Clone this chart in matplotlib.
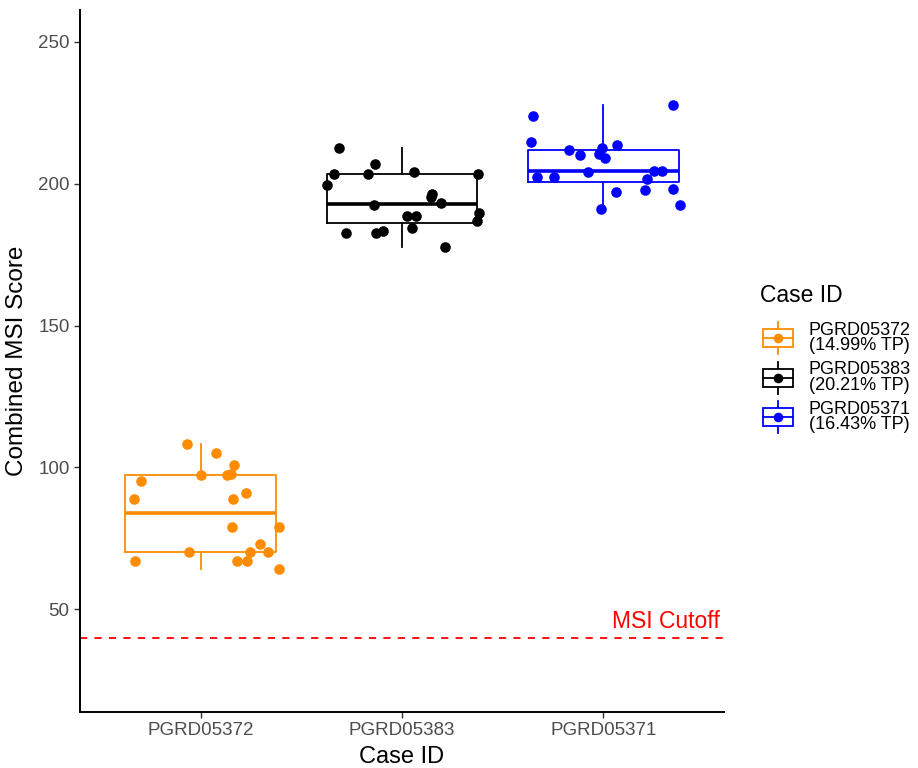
import matplotlib
matplotlib.use("Agg")
from matplotlib import pyplot as plt
from matplotlib.patches import Rectangle

plt.rcParams['font.family'] = ['Liberation Sans', 'DejaVu Sans']

cases = ['PGRD05372', 'PGRD05383', 'PGRD05371']
legend_labels = ['PGRD05372\n(14.99% TP)', 'PGRD05383\n(20.21% TP)', 'PGRD05371\n(16.43% TP)']
colors = ['#FF8C00', 'black', '#0000FF']

# scores per case
scores_05372 = [108.1, 105.0, 100.7, 97.2, 97.2, 97.8, 95.1, 89.0, 89.0, 91.1,
                79.0, 79.0, 73.1, 70.2, 70.0, 70.0, 67.0, 67.0, 67.0, 64.1]
scores_05383 = [212.6, 206.9, 203.4, 203.6, 204.3, 203.6, 199.5, 196.3, 195.2, 193.2,
                192.6, 189.6, 186.8, 188.5, 188.5, 184.4, 182.5, 182.5, 183.2, 177.8]
scores_05371 = [223.9, 227.8, 214.6, 211.9, 210.2, 212.5, 210.4, 209.0, 213.6, 202.5,
                202.5, 204.3, 204.6, 204.6, 201.6, 197.7, 198.3, 197.2, 191.1, 192.5]

# horizontal jitter of each point, as seen in the picture
jitter_05372 = [-0.068, 0.078, 0.164, 0.003, 0.131, 0.148, -0.295, -0.333, 0.161, 0.225,
                0.156, 0.388, 0.292, 0.247, 0.333, -0.056, -0.328, 0.178, 0.231, 0.388]
jitter_05383 = [-0.313, -0.134, -0.338, -0.168, 0.06, 0.378, -0.372, 0.151, 0.143, 0.193,
                -0.139, 0.383, 0.375, 0.023, 0.068, 0.051, -0.28, -0.128, -0.095, 0.212]
jitter_05371 = [-0.347, 0.348, -0.36, -0.169, -0.114, -0.006, -0.02, 0.01, 0.068, -0.327,
                -0.247, -0.078, 0.254, 0.292, 0.216, 0.207, 0.345, 0.063, -0.012, 0.382]

scores = [scores_05372, scores_05383, scores_05371]
jitters = [jitter_05372, jitter_05383, jitter_05371]
cutoff = 40

fig = plt.figure(figsize=(9.18, 7.68), dpi=100)
ax = fig.add_axes([80 / 918, 1 - 712 / 768, 644 / 918, 702 / 768])

for i in range(len(cases)):
    c = colors[i]
    ax.boxplot(scores[i], positions=[i + 1], widths=0.75, showfliers=False,
               boxprops=dict(color=c, linewidth=1.3),
               whiskerprops=dict(color=c, linewidth=1.3),
               capprops=dict(linewidth=0),
               medianprops=dict(color=c, linewidth=2.6),
               zorder=2)
    xs = [i + 1 + j for j in jitters[i]]
    ax.scatter(xs, scores[i], s=58, color=c, zorder=3, linewidths=0)

ax.axhline(cutoff, color='red', linestyle=(0, (4, 4)), linewidth=1.3, zorder=1)
ax.text(3.58, cutoff + 1.5, 'MSI Cutoff', color='red', fontsize=16.5,
        ha='right', va='bottom')

ax.set_xlim(0.4, 3.6)
ax.set_ylim(13.75, 261.25)
ax.set_xticks([1, 2, 3])
ax.set_xticklabels(cases)
ax.set_yticks([50, 100, 150, 200, 250])
ax.tick_params(colors='#333333', labelcolor='#4D4D4D', labelsize=13.5,
               length=4, width=1)
for s in ['top', 'right']:
    ax.spines[s].set_visible(False)
for s in ['left', 'bottom']:
    ax.spines[s].set_linewidth(1.4)
ax.set_xlabel('Case ID', fontsize=17, labelpad=5)
ax.set_ylabel('Combined MSI Score', fontsize=17.5, labelpad=7)

# legend drawn by hand in pixel coordinates
lax = fig.add_axes([0, 0, 1, 1])
lax.set_xlim(0, 918)
lax.set_ylim(768, 0)
lax.axis('off')
lax.text(760, 295, 'Case ID', fontsize=16.5, va='center', ha='left')
for i in range(len(cases)):
    c = colors[i]
    cy = 338 + i * 39.5
    lax.plot([778, 778], [cy - 16, cy + 16], color=c, linewidth=1.3)
    lax.add_patch(Rectangle((763, cy - 9), 30, 18, facecolor='white',
                            edgecolor=c, linewidth=1.3, zorder=2))
    lax.plot([763, 793], [cy, cy], color=c, linewidth=1.3, zorder=3)
    lax.scatter([778], [cy], s=48, color=c, zorder=4, linewidths=0)
    lax.text(809, cy, legend_labels[i], fontsize=13, va='center', ha='left',
             linespacing=0.9)

plt.savefig('out.png', dpi=100)
plt.close()
